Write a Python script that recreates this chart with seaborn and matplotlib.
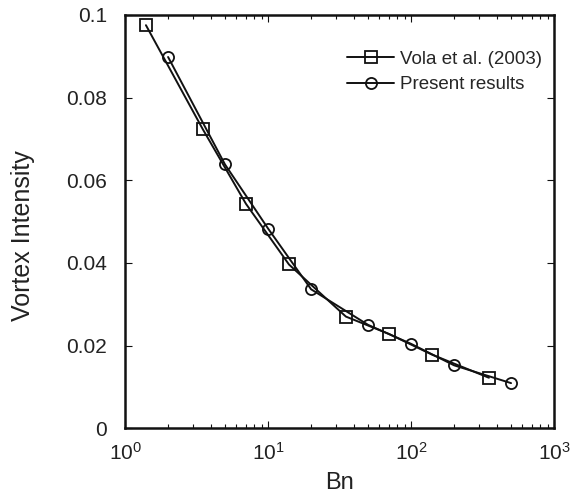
import numpy as np
import pandas as pd
import matplotlib
matplotlib.use("Agg")
import matplotlib.pyplot as plt
import matplotlib.ticker as mticker
import seaborn as sns

# ── Data ──────────────────────────────────────────────────────────────────────
vola_bn = [1.4, 3.5, 7, 14, 35, 70, 140, 350]
vola_vi = [0.0975, 0.0723, 0.0543, 0.0396, 0.0270, 0.0228, 0.0178, 0.0122]

present_bn = [2, 5, 10, 20, 50, 100, 200, 500]
present_vi = [0.0898, 0.0638, 0.0483, 0.0336, 0.0250, 0.0204, 0.0152, 0.0109]

y_ticks = [0, 0.02, 0.04, 0.06, 0.08, 0.1]
x_ticks = [1, 10, 100, 1000]

sns.set_style("ticks")
plt.rcParams["font.family"] = ["Liberation Sans", "DejaVu Sans"]
plt.rcParams["mathtext.fontset"] = "custom"
plt.rcParams["mathtext.rm"] = "Liberation Sans"
plt.rcParams["mathtext.it"] = "Liberation Sans"

INK = "#111111"

fig = plt.figure(figsize=(5.87, 4.95), dpi=100)
ax = fig.add_axes([0.213, 0.135, 0.731, 0.835])

line_kw = dict(color=INK, linewidth=1.4, markersize=8,
               markerfacecolor="none", markeredgecolor=INK,
               markeredgewidth=1.3)

sns.lineplot(x=vola_bn, y=vola_vi, marker="s", ax=ax,
             label="Vola et al. (2003)", **line_kw)
sns.lineplot(x=present_bn, y=present_vi, marker="o", ax=ax,
             label="Present results", **line_kw)

ax.set_xscale("log")
ax.set_xlim(1, 1000)
ax.set_ylim(0, 0.1)
ax.set_xticks(x_ticks)
ax.xaxis.set_major_formatter(mticker.FuncFormatter(
    lambda v, p: r"$10^{%d}$" % int(round(np.log10(v)))))
ax.xaxis.set_minor_locator(mticker.LogLocator(base=10, subs=np.arange(2, 10)))
ax.xaxis.set_minor_formatter(mticker.NullFormatter())
ax.set_yticks(y_ticks)
ax.yaxis.set_major_formatter(mticker.FuncFormatter(lambda v, p: f"{v:g}"))

ax.tick_params(which="both", direction="in", top=True, right=True,
               labelsize=15, color=INK, labelcolor="#222222")
ax.tick_params(which="major", length=5, width=0.8)
ax.tick_params(which="minor", length=3, width=0.8)
ax.tick_params(axis="y", pad=13)
ax.tick_params(axis="x", pad=10)
for sp in ax.spines.values():
    sp.set_linewidth(1.8)
    sp.set_color(INK)

ax.set_xlabel("Bn", fontsize=17, labelpad=6, color="#222222")
ax.set_ylabel("Vortex Intensity", fontsize=18, color="#222222")
ax.yaxis.set_label_coords(-0.21, 0.465)

ax.legend(loc="upper right", frameon=False, fontsize=13.5,
          handlelength=2.5, handletextpad=0.3, labelspacing=0.45,
          borderaxespad=0.3, bbox_to_anchor=(1.002, 0.945))

fig.savefig("out.png", dpi=100)
